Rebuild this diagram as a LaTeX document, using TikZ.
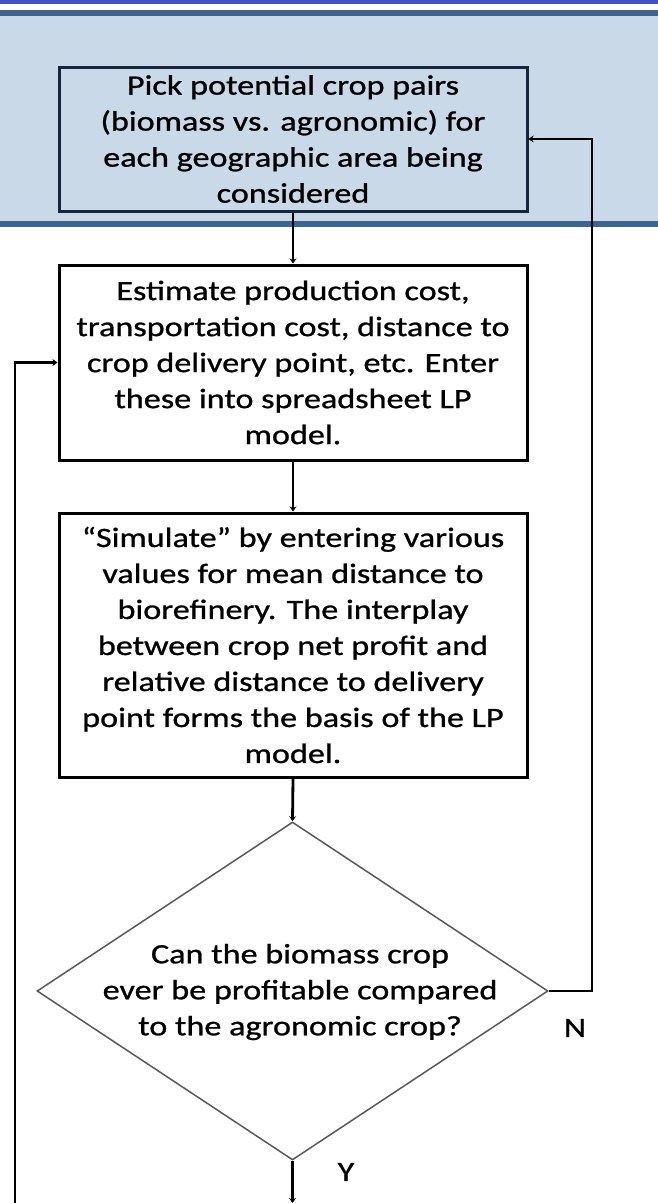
\documentclass[tikz,border=0pt]{standalone}
\usepackage{fontspec}
\setmainfont{Carlito}[FakeStretch=1.22,FakeBold=0.9]
\usetikzlibrary{shapes.geometric,arrows.meta}
\definecolor{bandfill}{HTML}{C9D9E8}
\definecolor{bandline}{HTML}{3D6590}
\definecolor{topline}{HTML}{4450C8}
\definecolor{navy}{HTML}{17263A}
\newcommand\boxfont{\fontsize{28}{36}\selectfont}
\begin{document}
\begin{tikzpicture}[x=1pt,y=-1pt,
  proc/.style={draw=black, line width=3pt, minimum width=468pt, inner sep=0pt, align=center, font=\boxfont},
  decision/.style={diamond, draw=black!65, line width=1.5pt, minimum width=511pt, minimum height=338pt, inner sep=0pt},
  txt/.style={align=center, font=\boxfont, inner sep=0pt},
  conn/.style={line width=2.8pt, -{Stealth[length=5pt,width=7pt]}},
  lbl/.style={font=\boxfont, inner sep=0pt}]
\useasboundingbox (0,0) rectangle (658,1203);
% header band
\fill[topline] (0,0) rectangle (658,3.5);
\fill[bandline] (0,10) rectangle (658,15.5);
\fill[bandfill] (0,15.5) rectangle (658,221);
\fill[bandline] (0,221) rectangle (658,227);
% nodes
\node[proc, draw=navy, minimum height=144pt] (b1) at (293,139)
  {Pick potential crop pairs\\(biomass vs. agronomic) for\\each geographic area being\\considered};
\node[proc, minimum height=195pt] (b2) at (293,362.5)
  {Estimate production cost,\\transportation cost, distance to\\crop delivery point, etc. Enter\\these into spreadsheet LP\\model.};
\node[proc, minimum height=264pt] (b3) at (293,645)
  {“Simulate” by entering various\\values for mean distance to\\biorefinery. The interplay\\between crop net profit and\\relative distance to delivery\\point forms the basis of the LP\\model.};
\node[decision] (dec) at (292.5,991) {};
\node[txt] (dect) at (300,992) {Can the biomass crop\\ever be profitable compared\\to the agronomic crop?};
\node[lbl] (N) at (575,1028) {N};
\node[lbl] (Y) at (346,1172) {Y};
% helper coordinates
\coordinate (rc) at (592,139);
\coordinate (lb) at (15,1203);
\coordinate (bot) at (292.5,1203);
% connectors
\draw[conn] (b1.south) -- (b2.north);
\draw[conn] (b2.south) -- (b3.north);
\draw[conn] (b3.south) -- (dec.north);
\draw[conn] (dec.east) -| (rc) -- (b1.east);
\draw[conn] (dec.south) -- (bot);
\draw[conn] (lb) |- (b2.west);
\end{tikzpicture}
\end{document}
